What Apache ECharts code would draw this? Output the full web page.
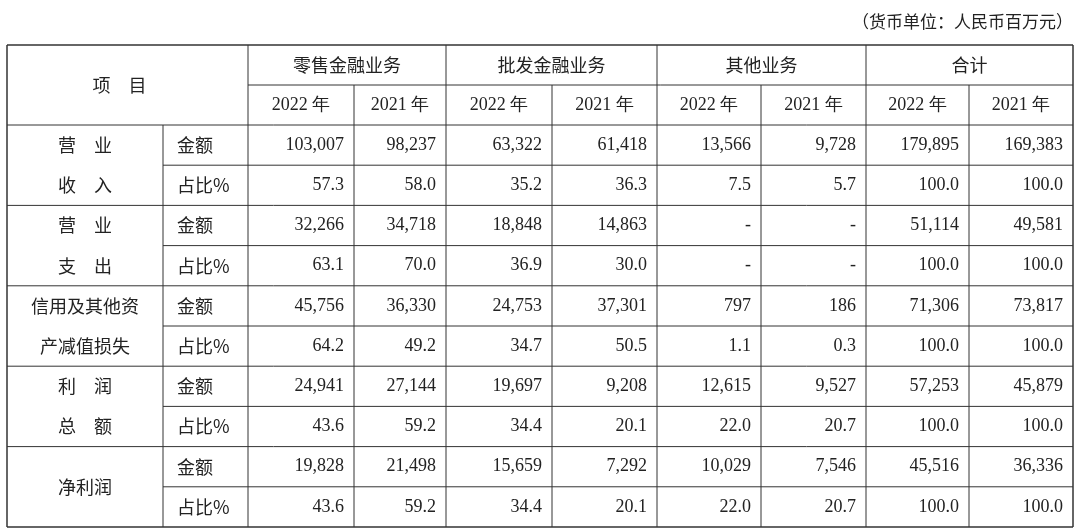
<!DOCTYPE html><html><head><meta charset="utf-8">
<script src="https://cdn.jsdelivr.net/npm/echarts@6/dist/echarts.min.js"></script>
<style>html,body{margin:0;background:#fff}#c{width:1080px;height:530px}</style></head><body><div id="c"></div><script>
const unitText='（货币单位：人民币百万元）';
const headItem='项　目';
const groups=['零售金融业务','批发金融业务','其他业务','合计'];
const years=['2022 年','2021 年'];
const rowLabels=[['营　业','收　入'],['营　业','支　出'],['信用及其他资','产减值损失'],['利　润','总　额'],['净利润']];
const subLabels=['金额','占比%'];
const amounts=[
['103,007','98,237','63,322','61,418','13,566','9,728','179,895','169,383'],
['32,266','34,718','18,848','14,863','-','-','51,114','49,581'],
['45,756','36,330','24,753','37,301','797','186','71,306','73,817'],
['24,941','27,144','19,697','9,208','12,615','9,527','57,253','45,879'],
['19,828','21,498','15,659','7,292','10,029','7,546','45,516','36,336']];
const ratios=[
['57.3','58.0','35.2','36.3','7.5','5.7','100.0','100.0'],
['63.1','70.0','36.9','30.0','-','-','100.0','100.0'],
['64.2','49.2','34.7','50.5','1.1','0.3','100.0','100.0'],
['43.6','59.2','34.4','20.1','22.0','20.7','100.0','100.0'],
['43.6','59.2','34.4','20.1','22.0','20.7','100.0','100.0']];

const X=[7,163,248,354,446,552,657,761,866,969,1073];
const Y0=45,HR=40,R0=125,RH=40.2;
const ry=i=>R0+i*RH;
const cn='"Noto Sans CJK SC"',num='"Liberation Serif"';
const cells=[];
function t(x,y,s,align,font){cells.push([x,y,s,align||'center',font||cn]);}
t(X[0]+(X[2]-X[0])/2-8,Y0+HR,headItem);
groups.forEach((g,i)=>{t((X[2+2*i]+X[4+2*i])/2,Y0+HR/2,g);
 years.forEach((y,j)=>t((X[2+2*i+j]+X[3+2*i+j])/2,Y0+HR*1.5,y,'center',num));});
rowLabels.forEach((l,i)=>{
 if(l.length===1)t((X[0]+X[1])/2,ry(2*i+1),l[0]);
 else l.forEach((s,k)=>t((X[0]+X[1])/2,ry(2*i+k)+RH/2,s));
 subLabels.forEach((s,k)=>t(X[1]+14,ry(2*i+k)+RH/2,s,'left'));
 amounts[i].forEach((v,c)=>t(X[c+3]-10,ry(2*i)+RH/2,v,'right',num));
 ratios[i].forEach((v,c)=>t(X[c+3]-10,ry(2*i+1)+RH/2,v,'right',num));
});
const lines=[];
const L=(x1,y1,x2,y2,w)=>lines.push({type:'line',shape:{x1,y1,x2,y2},style:{stroke:'#333',lineWidth:w||1}});
L(X[0],Y0,X[10],Y0,1.5);L(X[2],Y0+HR,X[10],Y0+HR);
L(X[0],R0,X[10],R0);
for(let i=0;i<5;i++){L(X[0],ry(2*i+2),X[10],ry(2*i+2),i===4?1.5:1);L(X[1],ry(2*i+1),X[10],ry(2*i+1));}
[0,2,4,6,8,10].forEach(i=>L(X[i],Y0,X[i],ry(10),(i===0||i===10)?1.5:1));
[3,5,7,9].forEach(i=>L(X[i],Y0+HR,X[i],ry(10)));
L(X[1],R0,X[1],ry(10));
lines.push({type:'text',style:{text:unitText,x:1073,y:22,align:'right',verticalAlign:'middle',font:'17px '+cn,fill:'#222'}});
const ch=echarts.init(document.getElementById('c'));
ch.setOption({animation:false,graphic:lines,
 series:[{type:'custom',coordinateSystem:'none',data:cells,renderItem:(p,api)=>{const d=cells[p.dataIndex];
  return {type:'text',style:{text:d[2],x:d[0],y:d[1],align:d[3],verticalAlign:'middle',font:'18px '+d[4],fill:'#222'}};}}]});
</script></body></html>
